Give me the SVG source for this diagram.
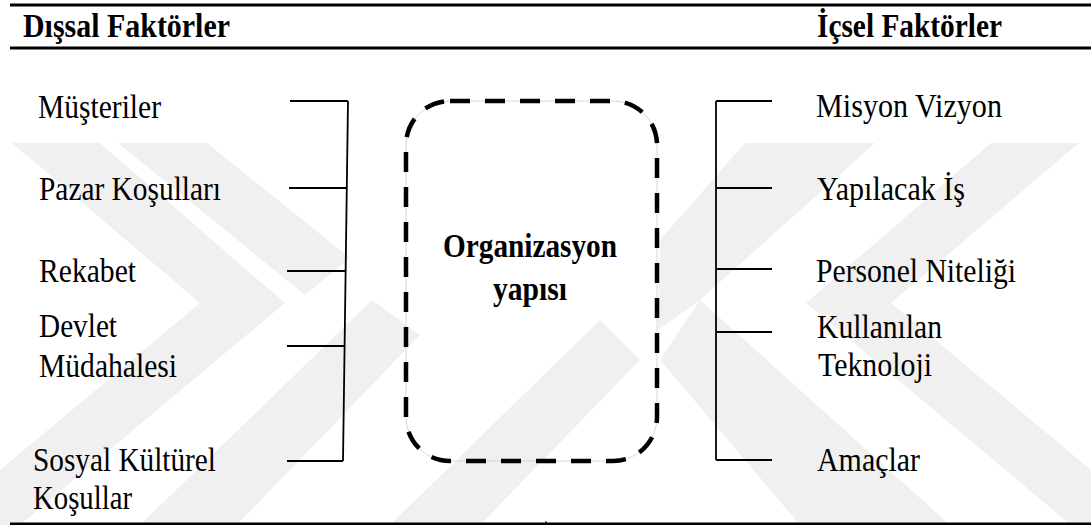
<svg xmlns="http://www.w3.org/2000/svg" width="1091" height="525" viewBox="0 0 1091 525">
  <style>
    .txt { font-family: "Liberation Serif", "Times New Roman", serif; font-size: 33px; fill: #000; }
    .bold { font-weight: bold; }
    .rule { stroke: #000; stroke-width: 3; fill: none; }
    .link { stroke: #000; stroke-width: 1.8; fill: none; stroke-linecap: butt; }
    .wm { fill: #f0f0f0; }
  </style>

  <rect x="0" y="0" width="1091" height="525" fill="#fff"/>

  <!-- faint background emblem -->
  <g id="watermark">
    <polygon class="wm" points="12,143 100,143 285,303 20,525 0,525 0,470 200,303"/>
    <polygon class="wm" points="118,143 207,143 350,258 305,295"/>
    <polygon class="wm" points="140,525 237,525 420,335 372,300"/>
    <polygon class="wm" points="390,525 480,525 640,360 600,320"/>
    <polygon class="wm" points="1079,143 991,143 806,303 1071,525 1091,525 1091,470 891,303"/>
    <polygon class="wm" points="875,143 745,143 660,240 658,330 700,300"/>
    <polygon class="wm" points="950,525 800,525 660,360 700,300"/>
  </g>

  <!-- table rules -->
  <g id="rules">
    <line class="rule" x1="10" y1="5" x2="1091" y2="5"/>
    <line class="rule" x1="10" y1="48" x2="1091" y2="48"/>
    <line class="rule" x1="10" y1="524" x2="1091" y2="524"/>
    <line x1="546" y1="521" x2="546" y2="525" stroke="#000" stroke-width="1"/>
  </g>

  <!-- column headings -->
  <g id="header-external">
    <text class="txt bold" x="23" y="37" textLength="207" lengthAdjust="spacingAndGlyphs">Dışsal Faktörler</text>
  </g>
  <g id="header-internal">
    <text class="txt bold" x="817" y="37" textLength="185" lengthAdjust="spacingAndGlyphs">İçsel Faktörler</text>
  </g>

  <!-- connectors: left and right brackets -->
  <g id="connectors">
    <line class="link" x1="348" y1="101" x2="343" y2="461"/>
    <line class="link" x1="290" y1="101" x2="348" y2="101"/>
    <line class="link" x1="289" y1="188" x2="347" y2="188"/>
    <line class="link" x1="287" y1="271" x2="346" y2="271"/>
    <line class="link" x1="287" y1="346" x2="344" y2="346"/>
    <line class="link" x1="287" y1="461" x2="343" y2="461"/>

    <line class="link" x1="716" y1="101" x2="716" y2="460"/>
    <line class="link" x1="716" y1="101" x2="772" y2="101"/>
    <line class="link" x1="716" y1="188" x2="772" y2="188"/>
    <line class="link" x1="716" y1="269" x2="772" y2="269"/>
    <line class="link" x1="716" y1="332" x2="772" y2="332"/>
    <line class="link" x1="716" y1="460" x2="772" y2="460"/>
  </g>

  <!-- central node -->
  <g id="organizasyon-yapisi">
    <rect x="406" y="101" width="251" height="360" rx="44" ry="44" fill="none" stroke="#d6d6d6" stroke-width="1"/>
    <rect x="406" y="101" width="251" height="360" rx="44" ry="44" fill="none" stroke="#000" stroke-width="4.5" stroke-dasharray="20 15"/>
    <text class="txt bold" x="443" y="257" textLength="174" lengthAdjust="spacingAndGlyphs">Organizasyon</text>
    <text class="txt bold" x="493" y="300" textLength="74" lengthAdjust="spacingAndGlyphs">yapısı</text>
  </g>

  <!-- external factors -->
  <g id="musteriler"><text class="txt" x="38" y="118" textLength="123" lengthAdjust="spacingAndGlyphs">Müşteriler</text></g>
  <g id="pazar-kosullari"><text class="txt" x="39" y="200" textLength="182" lengthAdjust="spacingAndGlyphs">Pazar Koşulları</text></g>
  <g id="rekabet"><text class="txt" x="39" y="282" textLength="97" lengthAdjust="spacingAndGlyphs">Rekabet</text></g>
  <g id="devlet-mudahalesi">
    <text class="txt" x="39" y="337" textLength="78" lengthAdjust="spacingAndGlyphs">Devlet</text>
    <text class="txt" x="39" y="377" textLength="138" lengthAdjust="spacingAndGlyphs">Müdahalesi</text>
  </g>
  <g id="sosyal-kulturel-kosullar">
    <text class="txt" x="33" y="471" textLength="183" lengthAdjust="spacingAndGlyphs">Sosyal Kültürel</text>
    <text class="txt" x="33" y="509" textLength="99" lengthAdjust="spacingAndGlyphs">Koşullar</text>
  </g>

  <!-- internal factors -->
  <g id="misyon-vizyon"><text class="txt" x="816" y="117" textLength="186" lengthAdjust="spacingAndGlyphs">Misyon Vizyon</text></g>
  <g id="yapilacak-is"><text class="txt" x="817" y="200" textLength="148" lengthAdjust="spacingAndGlyphs">Yapılacak İş</text></g>
  <g id="personel-niteligi"><text class="txt" x="816" y="282" textLength="200" lengthAdjust="spacingAndGlyphs">Personel Niteliği</text></g>
  <g id="kullanilan-teknoloji">
    <text class="txt" x="817" y="338" textLength="125" lengthAdjust="spacingAndGlyphs">Kullanılan</text>
    <text class="txt" x="818" y="376" textLength="114" lengthAdjust="spacingAndGlyphs">Teknoloji</text>
  </g>
  <g id="amaclar"><text class="txt" x="817" y="471" textLength="103" lengthAdjust="spacingAndGlyphs">Amaçlar</text></g>
</svg>
